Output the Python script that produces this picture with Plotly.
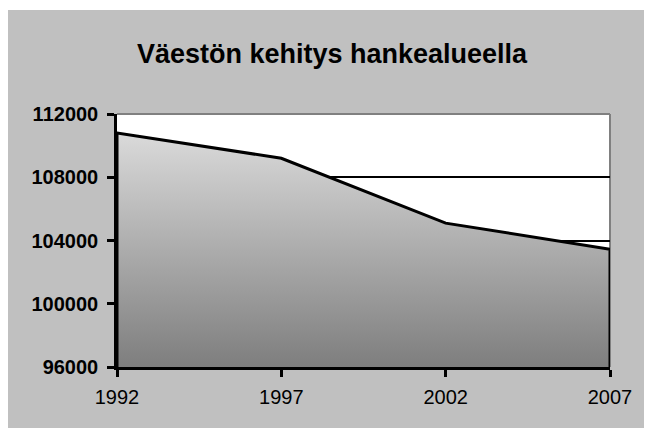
import plotly.graph_objects as go

years = [1992, 1997, 2002, 2007]
population = [110800, 109200, 105100, 103450]
y_ticks = [96000, 100000, 104000, 108000, 112000]
y_min, y_max = 96000, 112000
title_text = "Väestön kehitys hankealueella"

W, H = 652, 428
ml, mr, mt, mb = 109, 50, 106, 69

# closed polygon from the data down to the axis minimum
poly_x = [years[0]] + years + [years[-1]]
poly_y = [y_min] + population + [y_min]

fig = go.Figure()
fig.add_trace(go.Scatter(
    x=poly_x, y=poly_y, mode="lines", fill="toself",
    line=dict(color="black", width=3),
    fillgradient=dict(type="vertical", start=y_min, stop=max(population),
                      colorscale=[[0, "#7e7e7e"], [1, "#dadada"]]),
    hoverinfo="skip", showlegend=False,
))

font_family = "Liberation Sans, Arial, sans-serif"

fig.update_layout(
    width=W, height=H,
    margin=dict(l=ml, r=mr, t=mt, b=mb, pad=0),
    paper_bgcolor="#c0c0c0",
    plot_bgcolor="white",
    title=dict(text="<b>" + title_text + "</b>", x=0.497, xanchor="center",
               y=1 - 45.5 / H, yanchor="middle",
               font=dict(family=font_family, size=27, color="black")),
    xaxis=dict(range=[years[0], years[-1]], tickvals=years,
               ticktext=[str(y) for y in years],
               showgrid=False, zeroline=False,
               showline=True, linecolor="black", linewidth=2.5,
               ticks="outside", ticklen=7, tickwidth=2.5, tickcolor="black",
               tickfont=dict(family=font_family, size=20, color="black"),
               ticklabelstandoff=3),
    yaxis=dict(range=[y_min, y_max], tickvals=y_ticks,
               ticktext=["<b>%d</b>" % v for v in y_ticks],
               showgrid=True, gridcolor="black", gridwidth=2,
               zeroline=False,
               showline=True, linecolor="black", linewidth=2.5,
               ticks="outside", ticklen=7, tickwidth=2.5, tickcolor="black",
               tickfont=dict(family=font_family, size=20, color="black"),
               ticklabelstandoff=5),
    shapes=[
        # gray plot-area border (top and right)
        dict(type="line", xref="x domain", yref="y domain", x0=0, x1=1, y0=1, y1=1,
             line=dict(color="#808080", width=2), layer="below"),
        dict(type="line", xref="x domain", yref="y domain", x0=1, x1=1, y0=0, y1=1,
             line=dict(color="#808080", width=2), layer="below"),
        # thin white strip at the very top of the chart area
        dict(type="rect", xref="paper", yref="paper",
             x0=-ml / (W - ml - mr), x1=(W - ml) / (W - ml - mr),
             y0=(H - mb - 2) / (H - mt - mb), y1=(H - mb) / (H - mt - mb),
             line=dict(width=0), fillcolor="white", layer="above"),
    ],
)

fig.write_html("out.html")
